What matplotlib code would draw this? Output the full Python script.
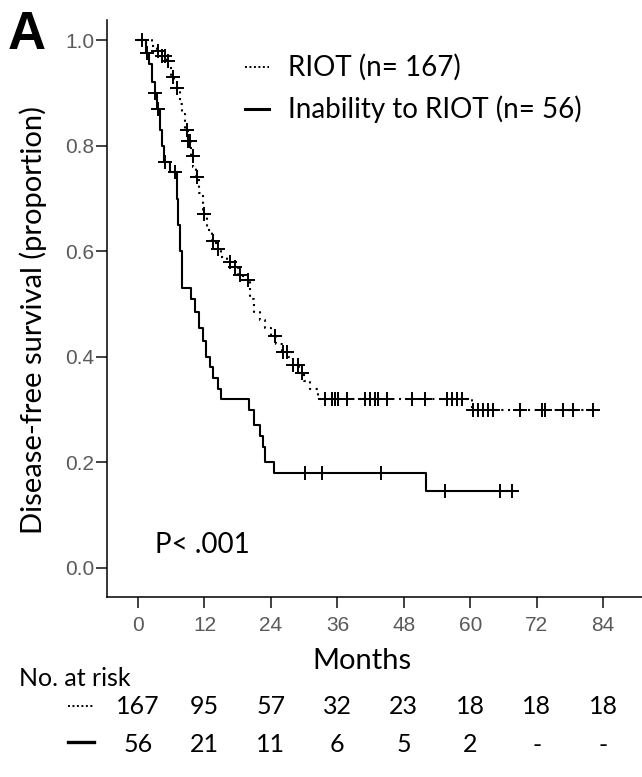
import numpy as np
import matplotlib.pyplot as plt
from matplotlib.transforms import blended_transform_factory

# Kaplan-Meier steps (time in months, survival after step)
riot_t = [0, 2.5, 3.5, 4.3, 5.0, 5.5, 6.0, 6.5, 7.0, 7.5, 8.0, 8.5, 9.0, 9.5, 10.0,
          10.5, 11.0, 11.7, 12.5, 13.3, 14.0, 15.0, 16.0, 17.0, 18.0, 19.0, 20.3,
          21.0, 22.0, 23.0, 24.0, 25.0, 26.0, 27.0, 28.0, 29.0, 30.0, 31.0, 32.5, 60.3]
riot_s = [1.0, 0.99, 0.98, 0.97, 0.96, 0.95, 0.93, 0.92, 0.91, 0.88, 0.86, 0.83, 0.81,
          0.78, 0.76, 0.74, 0.71, 0.67, 0.64, 0.62, 0.605, 0.59, 0.58, 0.57, 0.555,
          0.545, 0.51, 0.485, 0.47, 0.455, 0.44, 0.425, 0.41, 0.40, 0.385, 0.37,
          0.355, 0.34, 0.32, 0.30]
riot_end = 82.2
riot_cens = [0.8, 3.6, 4.3, 4.9, 5.4, 6.3, 7.0, 8.9, 9.0, 9.4, 9.9, 10.7, 11.9, 13.5,
             14.5, 16.6, 17.5, 18.4, 19.9, 24.7, 26.2, 26.9, 28.0, 28.9, 29.6, 33.8,
             35.0, 35.6, 36.1, 37.8, 41.0, 41.9, 42.8, 43.4, 45.0, 49.5, 51.8, 55.8,
             56.7, 57.6, 58.5, 60.5, 61.4, 62.3, 63.2, 64.1, 69.0, 73.0, 73.5, 76.8,
             78.6, 82.2]

inab_t = [0, 1.5, 2.0, 2.5, 3.0, 3.5, 4.0, 4.4, 4.7, 5.8, 7.0, 7.3, 7.6, 8.0,
          9.5, 10.3, 11.0, 11.7, 12.3, 13.0, 13.5, 14.5, 15.0, 20.0, 21.0, 22.0, 22.5,
          23.0, 24.5, 52.0]
inab_s = [1.0, 0.975, 0.955, 0.92, 0.90, 0.87, 0.83, 0.80, 0.77, 0.75, 0.70, 0.65,
          0.60, 0.53, 0.51, 0.485, 0.455, 0.43, 0.40, 0.38, 0.36, 0.34, 0.32, 0.30,
          0.27, 0.25, 0.23, 0.20, 0.18, 0.145]
inab_end = 68.5
inab_cens = [1.6, 3.1, 3.6, 4.9, 6.7, 30.2, 33.2, 43.9, 55.5, 65.4, 67.6]

risk_months = [0, 12, 24, 36, 48, 60, 72, 84]
risk_riot = ['167', '95', '57', '32', '23', '18', '18', '18']
risk_inab = ['56', '21', '11', '6', '5', '2', '-', '-']

sans = 'Lato'
tickfont = 'Liberation Sans'

fig = plt.figure(figsize=(6.42, 7.77), dpi=100)
ax = fig.add_axes([0.1667, 0.2317, 0.8333, 0.7423])


def step_value(ts, ss, t):
    i = np.searchsorted(ts, t, side='right') - 1
    return np.asarray(ss)[i]


dot_style = (0, (1.0, 2.2))
for ts, ss, end, cens, ls in [(riot_t, riot_s, riot_end, riot_cens, dot_style),
                              (inab_t, inab_s, inab_end, inab_cens, '-')]:
    x = list(ts) + [end]
    y = list(ss) + [ss[-1]]
    ax.step(x, y, where='post', color='black', lw=1.5, linestyle=ls)
    cy = [step_value(ts, ss, c) for c in cens]
    ax.plot(cens, cy, linestyle='none', marker='+', ms=10, mew=1.4, color='black')

ax.set_xlim(-5.6, 91)
ax.set_ylim(-0.055, 1.038)
ax.set_xticks(risk_months)
ax.set_yticks([0.0, 0.2, 0.4, 0.6, 0.8, 1.0])
ax.set_yticklabels(['0.0', '0.2', '0.4', '0.6', '0.8', '1.0'])
ax.spines['top'].set_visible(False)
ax.spines['right'].set_visible(False)
for s in ['left', 'bottom']:
    ax.spines[s].set_linewidth(1.1)
ax.tick_params(axis='both', direction='out', length=8, width=1.3, color='#333333',
               labelcolor='#5a5a5a', labelsize=15)
for lab in ax.get_xticklabels() + ax.get_yticklabels():
    lab.set_fontfamily(tickfont)
ax.tick_params(axis='x', pad=6)
ax.tick_params(axis='y', pad=1)

ax.set_ylabel('Disease-free survival (proportion)', fontsize=21, family=sans)
ax.yaxis.set_label_coords(-0.112, 0.48)
ax.set_xlabel('Months', fontsize=21, family=sans)
ax.xaxis.set_label_coords(0.477, -0.088)

# legend drawn as text + line samples
ax.plot([0.258, 0.303], [0.918, 0.918], transform=ax.transAxes, color='black',
        lw=1.4, linestyle=(0, (1, 1.3)))
ax.text(0.338, 0.918, 'RIOT (n= 167)', transform=ax.transAxes, fontsize=20,
        family=sans, va='center')
ax.plot([0.258, 0.303], [0.846, 0.846], transform=ax.transAxes, color='black', lw=2.2)
ax.text(0.338, 0.846, 'Inability to RIOT (n= 56)', transform=ax.transAxes, fontsize=20,
        family=sans, va='center')

ax.text(3.0, 0.043, 'P< .001', fontsize=20, family=sans, va='center')

fig.text(0.012, 0.955, 'A', fontsize=38, fontweight='bold', family=tickfont,
         va='center')

# number at risk table
tr = blended_transform_factory(ax.transData, fig.transFigure)
fig.text(0.03, 1 - 679 / 777, 'No. at risk', fontsize=18, family=sans, va='center')
y1 = 1 - 706 / 777
y2 = 1 - 745 / 777
fig.add_artist(plt.Line2D([68 / 642, 94 / 642], [y1, y1], color='black', lw=1.4,
                          linestyle=(0, (1, 1.3))))
fig.add_artist(plt.Line2D([68 / 642, 94 / 642], [y2 + 0.004, y2 + 0.004],
                          color='black', lw=2.4))
for m, a, b in zip(risk_months, risk_riot, risk_inab):
    fig.text(m, y1, a, transform=tr, fontsize=18, family=sans, ha='center', va='center')
    fig.text(m, y2, b, transform=tr, fontsize=18, family=sans, ha='center', va='center')

fig.savefig('out.png', dpi=100, facecolor='white')
